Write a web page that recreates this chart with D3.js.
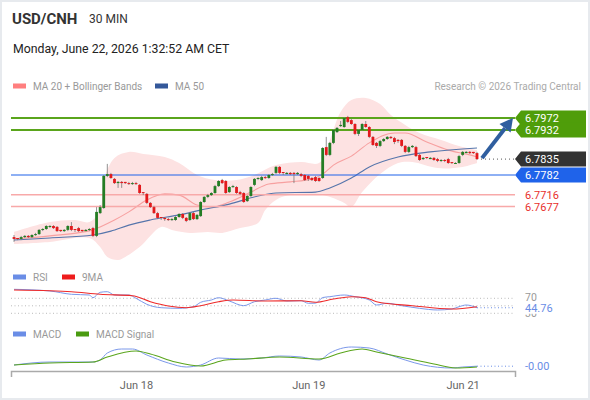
<!DOCTYPE html>
<html>
<head>
<meta charset="utf-8">
<script src="https://cdn.jsdelivr.net/npm/d3@7"></script>
<style>
body { margin: 0; background: #fff; }
svg { display: block; font-family: Roboto, "Liberation Sans", Arial, sans-serif; }
</style>
</head>
<body>
<div class="canvas"></div>
<script>
// 30 min candles, USD/CNH
const opens = [6.7575,6.7572,6.7569,6.7575,6.7579,6.7575,6.7582,6.7585,6.7599,6.7602,
    6.7609,6.7612,6.7609,6.7599,6.7595,6.7599,6.7612,6.7602,6.7605,6.7599,
    6.7595,6.7599,6.7605,6.7579,6.7655,6.7672,6.7779,6.7785,6.7769,6.7755,
    6.7759,6.7759,6.7755,6.7752,6.7755,6.7749,6.7725,6.7719,6.7689,6.7675,
    6.7655,6.7642,6.7639,6.7635,6.7632,6.7632,6.7642,6.7652,6.7639,6.7632,
    6.7655,6.7635,6.7645,6.7692,6.7709,6.7715,6.7722,6.7745,6.7765,6.7762,
    6.7725,6.7742,6.7742,6.7725,6.7722,6.7695,6.7712,6.7749,6.7769,6.7765,
    6.7775,6.7772,6.7782,6.7789,6.7809,6.7792,6.7785,6.7789,6.7789,6.7785,
    6.7785,6.7782,6.7779,6.7772,6.7775,6.7772,6.7772,6.7875,6.7849,6.7889,
    6.7925,6.7945,6.7942,6.7975,6.7965,6.7952,6.7919,6.7932,6.7952,6.7942,
    6.7909,6.7889,6.7879,6.7895,6.7902,6.7909,6.7905,6.7899,6.7899,6.7879,
    6.7859,6.7875,6.7875,6.7849,6.7835,6.7842,6.7835,6.7839,6.7835,6.7829,
    6.7832,6.7835,6.7825,6.7819,6.7822,6.7849,6.7855,6.7859,6.7859,6.7855]
const highs = [6.7582,6.7572,6.7579,6.7582,6.7582,6.7585,6.7589,6.7602,6.7605,6.7615,
    6.7615,6.7615,6.7612,6.7599,6.7602,6.7615,6.7625,6.7602,6.7609,6.7599,
    6.7602,6.7605,6.7609,6.7675,6.7682,6.7782,6.7819,6.7789,6.7772,6.7762,
    6.7762,6.7759,6.7759,6.7759,6.7759,6.7752,6.7725,6.7722,6.7692,6.7679,
    6.7659,6.7642,6.7642,6.7639,6.7639,6.7645,6.7655,6.7655,6.7642,6.7659,
    6.7659,6.7652,6.7695,6.7712,6.7719,6.7725,6.7749,6.7765,6.7769,6.7765,
    6.7745,6.7749,6.7745,6.7729,6.7725,6.7715,6.7745,6.7772,6.7775,6.7779,
    6.7779,6.7785,6.7789,6.7812,6.7812,6.7792,6.7792,6.7792,6.7792,6.7792,
    6.7789,6.7785,6.7782,6.7775,6.7779,6.7775,6.7875,6.7909,6.7892,6.7935,
    6.7942,6.7962,6.7975,6.7979,6.7969,6.7955,6.7935,6.7955,6.7962,6.7945,
    6.7912,6.7892,6.7899,6.7905,6.7912,6.7912,6.7909,6.7902,6.7902,6.7882,
    6.7879,6.7882,6.7879,6.7852,6.7842,6.7842,6.7842,6.7842,6.7839,6.7835,
    6.7835,6.7839,6.7825,6.7825,6.7849,6.7862,6.7862,6.7862,6.7859,6.7859]
const lows = [6.7559,6.7565,6.7565,6.7572,6.7572,6.7572,6.7579,6.7582,6.7595,6.7599,
    6.7605,6.7602,6.7592,6.7592,6.7592,6.7595,6.7595,6.7592,6.7592,6.7592,
    6.7595,6.7595,6.7575,6.7575,6.7652,6.7669,6.7775,6.7769,6.7752,6.7739,
    6.7739,6.7752,6.7749,6.7749,6.7749,6.7719,6.7715,6.7685,6.7672,6.7652,
    6.7635,6.7632,6.7629,6.7629,6.7629,6.7629,6.7639,6.7635,6.7625,6.7629,
    6.7632,6.7632,6.7642,6.7689,6.7705,6.7712,6.7719,6.7742,6.7752,6.7719,
    6.7722,6.7739,6.7719,6.7715,6.7689,6.7692,6.7709,6.7745,6.7765,6.7762,
    6.7769,6.7769,6.7779,6.7785,6.7785,6.7782,6.7785,6.7782,6.7755,6.7782,
    6.7775,6.7762,6.7762,6.7762,6.7759,6.7759,6.7769,6.7845,6.7845,6.7885,
    6.7922,6.7942,6.7939,6.7955,6.7949,6.7915,6.7912,6.7929,6.7939,6.7905,
    6.7879,6.7872,6.7875,6.7892,6.7899,6.7902,6.7885,6.7889,6.7875,6.7855,
    6.7855,6.7872,6.7842,6.7829,6.7832,6.7835,6.7835,6.7829,6.7825,6.7825,
    6.7825,6.7819,6.7819,6.7819,6.7819,6.7845,6.7855,6.7852,6.7852,6.7832]
const closes = [6.7569,6.7569,6.7575,6.7579,6.7575,6.7582,6.7585,6.7599,6.7602,6.7612,
    6.7612,6.7605,6.7595,6.7595,6.7599,6.7612,6.7599,6.7599,6.7595,6.7595,
    6.7599,6.7602,6.7579,6.7659,6.7675,6.7779,6.7785,6.7772,6.7755,6.7759,
    6.7755,6.7755,6.7752,6.7755,6.7752,6.7722,6.7722,6.7689,6.7675,6.7655,
    6.7639,6.7639,6.7635,6.7632,6.7635,6.7642,6.7652,6.7639,6.7629,6.7655,
    6.7635,6.7649,6.7692,6.7709,6.7715,6.7722,6.7745,6.7762,6.7755,6.7722,
    6.7742,6.7745,6.7722,6.7719,6.7692,6.7712,6.7742,6.7769,6.7772,6.7775,
    6.7772,6.7782,6.7785,6.7809,6.7789,6.7789,6.7789,6.7785,6.7785,6.7789,
    6.7779,6.7765,6.7769,6.7765,6.7762,6.7762,6.7872,6.7849,6.7889,6.7932,
    6.7939,6.7949,6.7972,6.7959,6.7952,6.7919,6.7932,6.7952,6.7942,6.7909,
    6.7882,6.7879,6.7895,6.7902,6.7909,6.7905,6.7892,6.7895,6.7879,6.7859,
    6.7875,6.7879,6.7845,6.7832,6.7839,6.7839,6.7839,6.7832,6.7829,6.7832,
    6.7829,6.7822,6.7822,6.7822,6.7845,6.7859,6.7859,6.7855,6.7855,6.7835]

// indicator readings (candle index -> value)
const ma20At = [0,10,22,24,28,32,37,42,46,51,55,60,66,71,77,83,86,89,94,99,106,109,115,121,127,129]
const ma20 = [6.7569,6.7579,6.7599,6.7609,6.7632,6.7659,6.7699,6.7719,6.7715,6.7682,6.7675,6.7692,6.7725,
    6.7752,6.7759,6.7769,6.7785,6.7815,6.7845,6.7889,6.7922,6.7922,6.7892,6.7865,6.7849,6.7842]
const ma50At = [0,10,22,27,32,38,46,52,60,68,73,84,88,94,99,107,116,129]
const ma50 = [6.7565,6.7572,6.7582,6.7595,6.7615,6.7632,6.7649,6.7665,6.7685,6.7712,6.7722,6.7725,
    6.7739,6.7772,6.7809,6.7842,6.7859,6.7872]
const bbUpAt = [0,10,17,21,24,25,28,32,36,42,46,51,56,62,67,73,80,85,88,91,94,98,102,105,109,113,119,124,129]
const bbUp = [6.7592,6.7625,6.7632,6.7625,6.7665,6.7765,6.7839,6.7859,6.7852,6.7842,6.7822,6.7782,6.7765,
    6.7765,6.7782,6.7815,6.7825,6.7822,6.7899,6.7992,6.8032,6.8039,6.8019,6.7982,6.7949,6.7922,6.7899,
    6.7879,6.7865]
const bbLowAt = [0,10,21,24,26,29,31,35,41,44,49,54,58,63,68,70,73,77,86,92,94,97,102,107,111,118,125,129]
const bbLow = [6.7552,6.7559,6.7572,6.7542,6.7509,6.7499,6.7509,6.7542,6.7609,6.7599,6.7589,6.7592,6.7589,
    6.7605,6.7622,6.7665,6.7699,6.7715,6.7715,6.7689,6.7675,6.7725,6.7785,6.7822,6.7825,6.7805,6.7809,
    6.7822]

const rsiAt = [0,10,16,21,22,24,26,28,32,34,37,41,46,50,52,55,57,60,64,67,70,73,76,80,82,84,86,88,92,95,
    99,101,104,108,113,118,122,124,126,129]
const rsi = [94,89.5,80.7,78.8,71.6,86,87.6,78.8,78.8,70,54,44.9,43.3,47.6,59.3,65.5,71.6,62.8,50.3,60.9,
    65.5,70,62.8,63.6,56.7,57,72,74.3,78.8,74.3,65.5,52.1,56.7,50.3,43.3,38.8,41.5,47.6,52.1,44.76]
const rsiMaAt = [0,10,16,24,33,38,43,48,52,57,61,70,80,84,89,94,98,101,111,122,129]
const rsiMa = [92.1,90.3,87.6,80.7,76.9,60.9,49.5,44.9,50.3,60.9,65.5,62.8,63.6,59.3,68,74.3,71.6,60.9,50.3,
    41.5,47.6]
const rsiLevels = [70, 50, 30]

const macdAt = [0,10,22,24,26,30,33,37,43,48,52,57,63,69,74,80,85,88,94,99,104,109,114,122,125,129]
const macd = [0.0001,0.0004,0.0004,0.0006,0.0013,0.0017,0.0017,0.0011,0.0003,-0.0001,0.0001,0.0008,0.0007,
    0.0008,0.0010,0.0009,0.0006,0.0013,0.0019,0.0018,0.0012,0.0006,0.0001,-0.0002,-0.0001,-0.00002]
const signalAt = [0,10,22,26,34,38,45,52,59,65,74,85,91,97,101,109,117,123,129]
const signal = [0.0001,0.0003,0.0004,0.0009,0.0015,0.0012,0.0004,0.0000,0.0006,0.0007,0.0009,0.0007,0.0013,
    0.0017,0.0014,0.0008,0.0002,-0.0002,-0.0001]

const resistances = [6.7972, 6.7932]
const pivot = 6.7782
const supports = [6.7716, 6.7677]

const tickAt = [34, 82, 125]
const tickLabels = ["Jun 18", "Jun 19", "Jun 21"]

const width = 590
const height = 400
const lineEnd = 515

const svg = d3.select(".canvas")
    .append("svg")
    .attr("width", width)
    .attr("height", height)

svg.append("rect")
    .attr("x", 1).attr("y", 1)
    .attr("width", width - 2).attr("height", height - 2)
    .attr("fill", "#fff")
    .attr("stroke", "#e7eaee")
    .attr("stroke-width", 2)

// header
svg.append("text").attr("x", 12).attr("y", 24)
    .attr("font-size", 15).attr("font-weight", "bold").attr("fill", "#333")
    .text("USD/CNH")
svg.append("text").attr("x", 89).attr("y", 23)
    .attr("font-size", 12).attr("fill", "#333")
    .text("30 MIN")
svg.append("text").attr("x", 13).attr("y", 53)
    .attr("font-size", 12.3).attr("fill", "#222")
    .text("Monday, June 22, 2026 1:32:52 AM CET")

function legend(items, ly) {
    items.forEach(it => {
        svg.append("rect").attr("x", it.x).attr("y", ly - 2.5)
            .attr("width", 13).attr("height", 5).attr("fill", it.color)
        svg.append("text").attr("x", it.x + 20).attr("y", ly + 3.7)
            .attr("font-size", 10).attr("fill", "#999")
            .text(it.label)
    })
}
legend([{x: 13, color: "#ff7f7f", label: "MA 20 + Bollinger Bands"},
        {x: 155, color: "#34589a", label: "MA 50"}], 86)
legend([{x: 13, color: "#6a8de6", label: "RSI"},
        {x: 62, color: "#ee1c1c", label: "9MA"}], 277)
legend([{x: 13, color: "#6a8de6", label: "MACD"},
        {x: 76, color: "#4a9b10", label: "MACD Signal"}], 334)

svg.append("text").attr("x", 581).attr("y", 90)
    .attr("text-anchor", "end")
    .attr("font-size", 10).attr("fill", "#aaa")
    .text("Research \u00a9 2026 Trading Central")

// scales
const x = d3.scaleLinear().domain([0, closes.length - 1]).range([14, 477])
const y = d3.scaleLinear().domain([6.7565, 6.7972]).range([240.1, 118])
const yRsi = d3.scaleLinear().domain([30, 70]).range([313.3, 298.3])
const yMacd = d3.scaleLinear().domain([0, 0.0017]).range([366, 349])

const pts = (at, vals, sy) => at.map((a, i) => [x(a), sy(vals[i])])

// bollinger band
const bandLine = d3.line().curve(d3.curveCatmullRom)
const upPath = bandLine(pts(bbUpAt, bbUp, y))
const lowPath = bandLine(pts(bbLowAt, bbLow, y).reverse())
svg.append("path")
    .attr("d", upPath + "L" + lowPath.slice(1) + "Z")
    .attr("fill", "#fde2e2")

const smooth = d3.line().curve(d3.curveMonotoneX)

svg.append("path").attr("d", smooth(pts(ma20At, ma20, y)))
    .attr("fill", "none").attr("stroke", "#f7a0a0").attr("stroke-width", 1.1)
svg.append("path").attr("d", smooth(pts(ma50At, ma50, y)))
    .attr("fill", "none").attr("stroke", "#5675ab").attr("stroke-width", 1.1)

// levels
const levelX0 = 11
resistances.forEach(v => {
    svg.append("line").attr("x1", levelX0).attr("x2", lineEnd)
        .attr("y1", y(v)).attr("y2", y(v))
        .attr("stroke", "#5aa51c").attr("stroke-width", 2.2)
})
svg.append("line").attr("x1", levelX0).attr("x2", lineEnd)
    .attr("y1", y(pivot)).attr("y2", y(pivot))
    .attr("stroke", "#1f63ea").attr("stroke-width", 1.2)
supports.forEach(v => {
    svg.append("line").attr("x1", levelX0).attr("x2", lineEnd)
        .attr("y1", y(v)).attr("y2", y(v))
        .attr("stroke", "#f8a9a9").attr("stroke-width", 1.5)
})

// candles
const candles = closes.map((c, i) => ({i: i, o: opens[i], h: highs[i], l: lows[i], c: c}))
const candleColor = d => d.c > d.o ? "#247d24" : (d.c < d.o ? "#e2191c" : "#555")

svg.append("g").selectAll("line")
    .data(candles)
    .enter()
    .append("line")
    .attr("x1", d => x(d.i)).attr("x2", d => x(d.i))
    .attr("y1", d => y(Math.max(d.h, d.o, d.c)))
    .attr("y2", d => y(Math.min(d.l, d.o, d.c)))
    .attr("stroke", "#777")
    .attr("stroke-width", 0.8)

svg.append("g").selectAll("rect")
    .data(candles)
    .enter()
    .append("rect")
    .attr("x", d => x(d.i) - 1.4)
    .attr("width", 2.8)
    .attr("y", d => y(Math.max(d.o, d.c)))
    .attr("height", d => Math.max(1, Math.abs(y(d.o) - y(d.c))))
    .attr("fill", candleColor)

// last price dotted line
const last = closes[closes.length - 1]
svg.append("line")
    .attr("x1", x(closes.length - 1) + 4).attr("x2", lineEnd)
    .attr("y1", y(last)).attr("y2", y(last))
    .attr("stroke", "#555").attr("stroke-dasharray", "1,3")

// arrow
const ax0 = x(closes.length - 1) + 5, ay0 = y(last) - 1
const ax1 = 513, ay1 = y(resistances[0])
const ang = Math.atan2(ay1 - ay0, ax1 - ax0)
const headLen = 13, headW = 7
const bx = ax1 - headLen * Math.cos(ang), by = ay1 - headLen * Math.sin(ang)
svg.append("line")
    .attr("x1", ax0).attr("y1", ay0)
    .attr("x2", bx).attr("y2", by)
    .attr("stroke", "#2f5e9f").attr("stroke-width", 4)
svg.append("path")
    .attr("d", `M${ax1},${ay1} L${bx + headW * Math.sin(ang)},${by - headW * Math.cos(ang)} L${bx - headW * Math.sin(ang)},${by + headW * Math.cos(ang)} Z`)
    .attr("fill", "#2f5e9f")

// price tags on the right
function tag(v, fill) {
    const cy = y(v)
    svg.append("path")
        .attr("d", `M${lineEnd},${cy} L${lineEnd + 6},${cy - 7.5} L586,${cy - 7.5} L586,${cy + 7.5} L${lineEnd + 6},${cy + 7.5} Z`)
        .attr("fill", fill)
}
function tagText(v, color) {
    svg.append("text").attr("x", 525).attr("y", y(v) + 4)
        .attr("font-size", 11).attr("fill", color)
        .text(v.toFixed(4))
}
resistances.forEach(v => tag(v, "#4f9d0a"))
resistances.forEach(v => tagText(v, "#fff"))
tag(last, "#333")
tagText(last, "#fff")
tag(pivot, "#1f63ea")
tagText(pivot, "#fff")
supports.forEach(v => tagText(v, "#e8302c"))

// RSI panel
rsiLevels.forEach(v => {
    svg.append("line").attr("x1", levelX0).attr("x2", lineEnd)
        .attr("y1", yRsi(v)).attr("y2", yRsi(v))
        .attr("stroke", "#bbb").attr("stroke-dasharray", "1,2.5")
})
svg.append("path").attr("d", smooth(pts(rsiAt, rsi, yRsi)))
    .attr("fill", "none").attr("stroke", "#7b98ea").attr("stroke-width", 1)
svg.append("path").attr("d", smooth(pts(rsiMaAt, rsiMa, yRsi)))
    .attr("fill", "none").attr("stroke", "#ee2a2a").attr("stroke-width", 1.1)
const lastRsi = rsi[rsi.length - 1]
svg.append("line")
    .attr("x1", x(closes.length - 1)).attr("x2", lineEnd)
    .attr("y1", yRsi(lastRsi)).attr("y2", yRsi(lastRsi))
    .attr("stroke", "#6a8de6").attr("stroke-dasharray", "1,2.5")
svg.append("text").attr("x", 525).attr("y", yRsi(70) + 3)
    .attr("font-size", 10.5).attr("fill", "#999").text("70")
svg.append("text").attr("x", 525).attr("y", yRsi(30) + 4)
    .attr("font-size", 10.5).attr("fill", "#999").text("30")
svg.append("rect").attr("x", 523).attr("y", yRsi(lastRsi) - 5)
    .attr("width", 32).attr("height", 11).attr("fill", "#fff")
svg.append("text").attr("x", 525).attr("y", yRsi(lastRsi) + 4)
    .attr("font-size", 11).attr("fill", "#6a8de6").text(lastRsi.toFixed(2))

// MACD panel
svg.append("path").attr("d", smooth(pts(macdAt, macd, yMacd)))
    .attr("fill", "none").attr("stroke", "#7b98ea").attr("stroke-width", 1)
svg.append("path").attr("d", smooth(pts(signalAt, signal, yMacd)))
    .attr("fill", "none").attr("stroke", "#5aa51c").attr("stroke-width", 1.1)
const lastMacd = macd[macd.length - 1]
svg.append("line")
    .attr("x1", x(closes.length - 1)).attr("x2", lineEnd)
    .attr("y1", yMacd(lastMacd)).attr("y2", yMacd(lastMacd))
    .attr("stroke", "#6a8de6").attr("stroke-dasharray", "1,2.5")
svg.append("text").attr("x", 525).attr("y", yMacd(lastMacd) + 4)
    .attr("font-size", 11).attr("fill", "#6a8de6").text(lastMacd.toFixed(2))

// time axis
const xAxisScale = x.copy().domain([x.invert(levelX0), x.invert(lineEnd)]).range([levelX0, lineEnd])
const xAxis = d3.axisBottom(xAxisScale)
    .tickValues(tickAt)
    .tickFormat((d, i) => tickLabels[i])
    .tickSizeInner(0)
    .tickSizeOuter(6)
    .tickPadding(10)
const xAxisGroup = svg.append("g")
    .attr("transform", "translate(0, 371)")
    .call(xAxis)
xAxisGroup.select(".domain").attr("stroke", "#aaa").attr("stroke-width", 1.5)
xAxisGroup.selectAll("text")
    .attr("font-family", "Roboto, Liberation Sans, Arial, sans-serif")
    .attr("font-size", 11).attr("fill", "#666")
</script>
</body>
</html>
